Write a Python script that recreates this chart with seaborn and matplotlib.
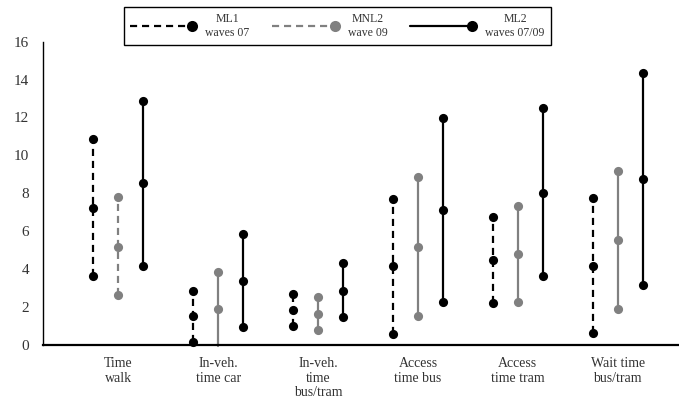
import matplotlib
matplotlib.use("Agg")
import matplotlib.pyplot as plt
from matplotlib.lines import Line2D
from matplotlib.legend_handler import HandlerLine2D
import seaborn as sns
import pandas as pd

# --- values (low / mid / high per model) ---
categories = ["Time\nwalk", "In-veh.\ntime car", "In-veh.\ntime\nbus/tram",
              "Access\ntime bus", "Access\ntime tram", "Wait time\nbus/tram"]

ml1_low = [3.62, 0.12, 0.97, 0.58, 2.18, 0.62]
ml1_mid = [7.22, 1.49, 1.81, 4.13, 4.45, 4.17]
ml1_high = [10.86, 2.81, 2.69, 7.68, 6.75, 7.74]

mnl2_low = [2.62, -0.10, 0.79, 1.53, 2.23, 1.90]
mnl2_mid = [5.17, 1.88, 1.63, 5.15, 4.78, 5.52]
mnl2_high = [7.77, 3.85, 2.49, 8.83, 7.33, 9.18]

ml2_low = [4.17, 0.95, 1.44, 2.27, 3.60, 3.13]
ml2_mid = [8.53, 3.38, 2.85, 7.10, 8.03, 8.75]
ml2_high = [12.88, 5.82, 4.31, 11.96, 12.52, 14.35]

models = ["ML1", "MNL2", "ML2"]
legend_labels = ["ML1\nwaves 07", "MNL2\nwave 09", "ML2\nwaves 07/09"]
series = {
    "ML1": (ml1_low, ml1_mid, ml1_high),
    "MNL2": (mnl2_low, mnl2_mid, mnl2_high),
    "ML2": (ml2_low, ml2_mid, ml2_high),
}

# long table: one vertical segment per (category, model)
offsets = {"ML1": -0.25, "MNL2": 0.0, "ML2": 0.25}
rows = []
for i, cat in enumerate(categories):
    for m in models:
        dashed = m == "ML1" or (m == "MNL2" and i == 0)
        for vals in series[m]:
            rows.append({"x": i + offsets[m], "value": vals[i], "model": m,
                         "seg": f"{i}-{m}", "line": "dashed" if dashed else "solid"})
df = pd.DataFrame(rows)

sns.set_style("white")
plt.rcParams["font.family"] = ["Liberation Serif", "DejaVu Serif"]

fig = plt.figure(figsize=(6.79, 4.03), dpi=100)
ax = fig.add_axes([0.0633, 0.145, 0.9367, 0.7515])

palette = {"ML1": "black", "MNL2": "#808080", "ML2": "black"}
sns.lineplot(data=df, x="x", y="value", hue="model", style="line", units="seg",
             estimator=None, orient="y", palette=palette,
             dashes={"dashed": (3.2, 2.2), "solid": ""},
             markers={"dashed": "o", "solid": "o"},
             markersize=6.6, markeredgewidth=0, linewidth=1.6,
             legend=False, ax=ax)

# points below the axis minimum get no marker (as in the original)
for line in ax.lines:
    y = line.get_ydata()
    line.set_markevery([k for k, v in enumerate(y) if v >= 0])
    line.set_clip_on(False)

ax.set_xlim(-0.753, 5.613)
ax.set_ylim(0, 16)
ax.set_yticks(range(0, 17, 2))
ax.set_xticks(range(len(categories)))
ax.set_xticklabels(categories, fontsize=10, color="#333333", linespacing=1.15)
ax.tick_params(axis="y", length=0, pad=10, labelsize=11, labelcolor="#333333")
ax.tick_params(axis="x", length=0, pad=9)
ax.set_xlabel("")
ax.set_ylabel("")
for s in ["top", "right"]:
    ax.spines[s].set_visible(False)
ax.spines["left"].set_color("black")
ax.spines["left"].set_linewidth(1.0)
ax.spines["bottom"].set_color("black")
ax.spines["bottom"].set_linewidth(1.6)


class EndMarkerHandler(HandlerLine2D):
    # legend sample: line with the marker at its right end
    def create_artists(self, *args, **kwargs):
        artists = super().create_artists(*args, **kwargs)
        for a in artists:
            a.set_markevery([2])
        return artists


handles = [
    Line2D([], [], color="black", lw=1.6, dashes=(3.2, 2.2), marker="o", ms=8, mew=0),
    Line2D([], [], color="#808080", lw=1.6, dashes=(3.2, 2.2), marker="o", ms=8, mew=0),
    Line2D([], [], color="black", lw=1.6, marker="o", ms=8, mew=0),
]
leg = ax.legend(handles, legend_labels, ncol=3, loc="upper left",
                bbox_to_anchor=(0.1826, 0.982), bbox_transform=fig.transFigure,
                borderaxespad=0, fontsize=8.5, handlelength=5.3, handletextpad=1.1,
                columnspacing=1.9, borderpad=0.5, fancybox=False, framealpha=1,
                edgecolor="black", handler_map={Line2D: EndMarkerHandler(numpoints=1)})
leg.get_frame().set_linewidth(1.0)
for t in leg.get_texts():
    t.set_multialignment("center")
    t.set_color("#333333")

fig.savefig("out.png", dpi=100)
